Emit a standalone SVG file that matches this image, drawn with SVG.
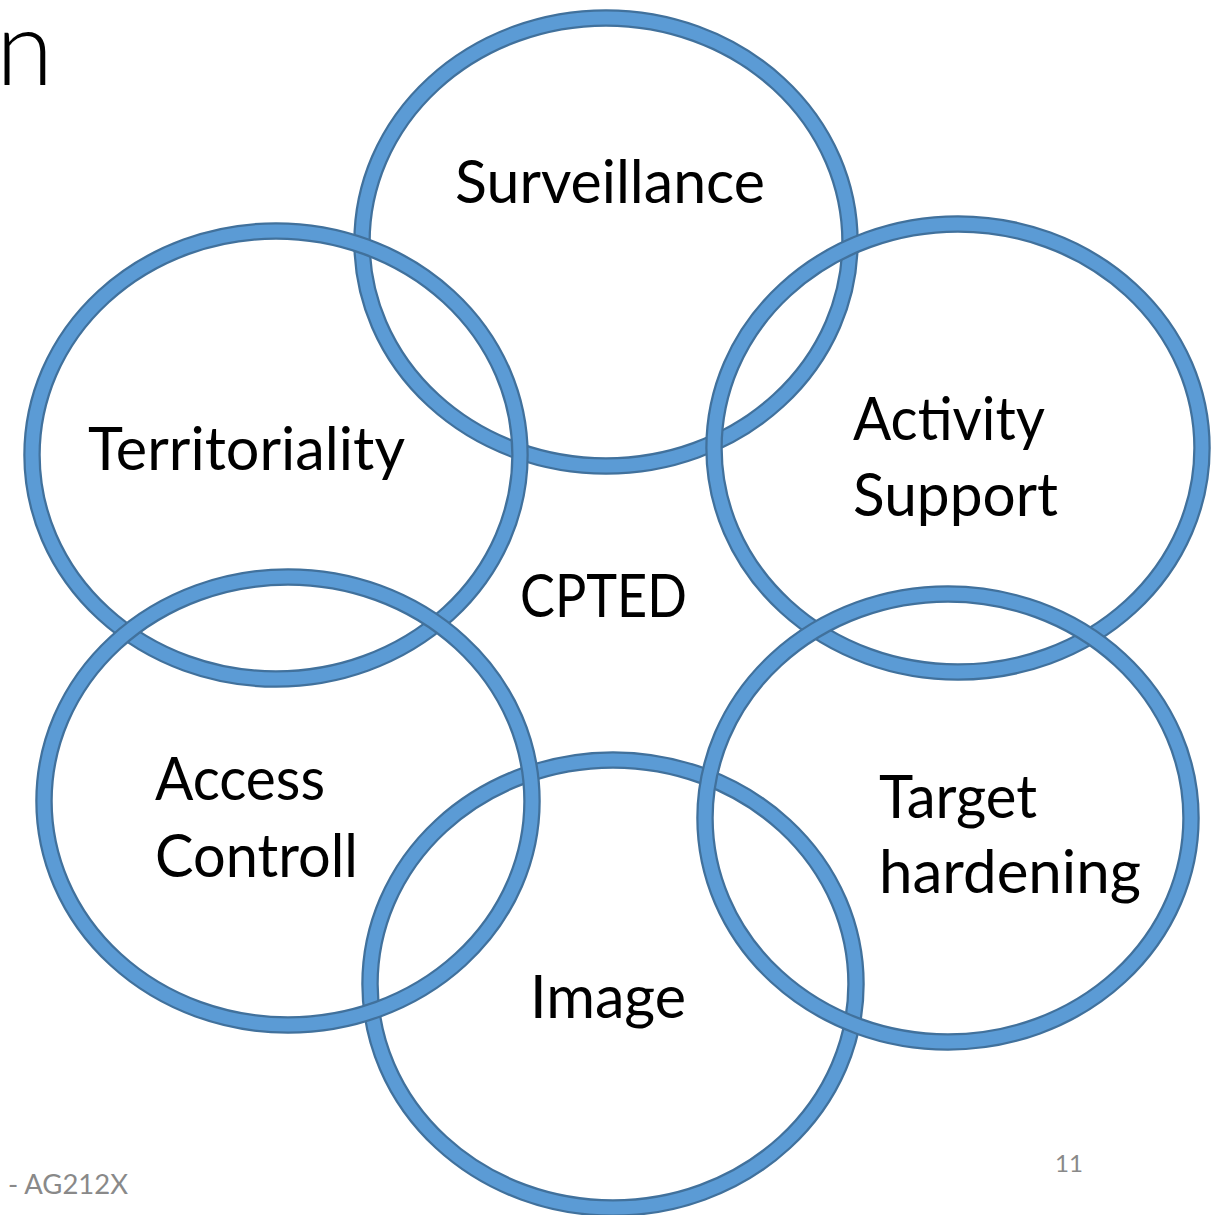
<svg xmlns="http://www.w3.org/2000/svg" width="1221" height="1215" viewBox="0 0 1221 1215">
<style>
.edge{fill:none;stroke:#41719C;stroke-width:17.5}
.band{fill:none;stroke:#5B9BD5;stroke-width:13}
.lbl{font-family:"Lato","Open Sans","Liberation Sans",sans-serif;font-size:60px;fill:#000}
.foot{font-family:"Lato","Open Sans","Liberation Sans",sans-serif;fill:#898989}
</style>
<rect width="1221" height="1215" fill="#fff"/>
<text x="-4" y="85" style="font-family:'Lato','Open Sans','Liberation Sans',sans-serif;font-weight:300;font-size:104px;fill:#000">n</text>
<g id="connectors"></g>
<g id="surveillance">
<ellipse class="edge" cx="606" cy="242" rx="244" ry="224"/>
<ellipse class="band" cx="606" cy="242" rx="244" ry="224"/>
<text class="lbl" x="455" y="203" textLength="310" lengthAdjust="spacingAndGlyphs">Surveillance</text>
</g>
<g id="activity-support">
<ellipse class="edge" cx="958" cy="448" rx="244" ry="224"/>
<ellipse class="band" cx="958" cy="448" rx="244" ry="224"/>
<text class="lbl" x="853" y="440" textLength="192" lengthAdjust="spacingAndGlyphs">Activity</text>
<text class="lbl" x="853" y="516" textLength="205" lengthAdjust="spacingAndGlyphs">Support</text>
</g>
<g id="image">
<ellipse class="edge" cx="613" cy="984" rx="243" ry="224"/>
<ellipse class="band" cx="613" cy="984" rx="243" ry="224"/>
<text class="lbl" x="530" y="1018" textLength="156" lengthAdjust="spacingAndGlyphs">Image</text>
</g>
<g id="target-hardening">
<ellipse class="edge" cx="948" cy="818" rx="243" ry="224"/>
<ellipse class="band" cx="948" cy="818" rx="243" ry="224"/>
<text class="lbl" x="879" y="818" textLength="158" lengthAdjust="spacingAndGlyphs">Target</text>
<text class="lbl" x="879" y="893" textLength="262" lengthAdjust="spacingAndGlyphs">hardening</text>
</g>
<g id="territoriality">
<ellipse class="edge" cx="276" cy="455" rx="244" ry="224"/>
<ellipse class="band" cx="276" cy="455" rx="244" ry="224"/>
<text class="lbl" x="88" y="470" textLength="317" lengthAdjust="spacingAndGlyphs">Territoriality</text>
</g>
<g id="access-controll">
<ellipse class="edge" cx="288" cy="801" rx="244" ry="224"/>
<ellipse class="band" cx="288" cy="801" rx="244" ry="224"/>
<text class="lbl" x="155" y="800" textLength="170" lengthAdjust="spacingAndGlyphs">Access</text>
<text class="lbl" x="155" y="877" textLength="203" lengthAdjust="spacingAndGlyphs">Controll</text>
</g>
<g id="cpted">
<text class="lbl" x="520" y="617" textLength="167" lengthAdjust="spacingAndGlyphs">CPTED</text>
</g>
<text class="foot" x="8" y="1194" font-size="26" textLength="120" lengthAdjust="spacingAndGlyphs">- AG212X</text>
<text class="foot" x="1055" y="1172" font-size="24" textLength="28" lengthAdjust="spacingAndGlyphs">11</text>
</svg>
